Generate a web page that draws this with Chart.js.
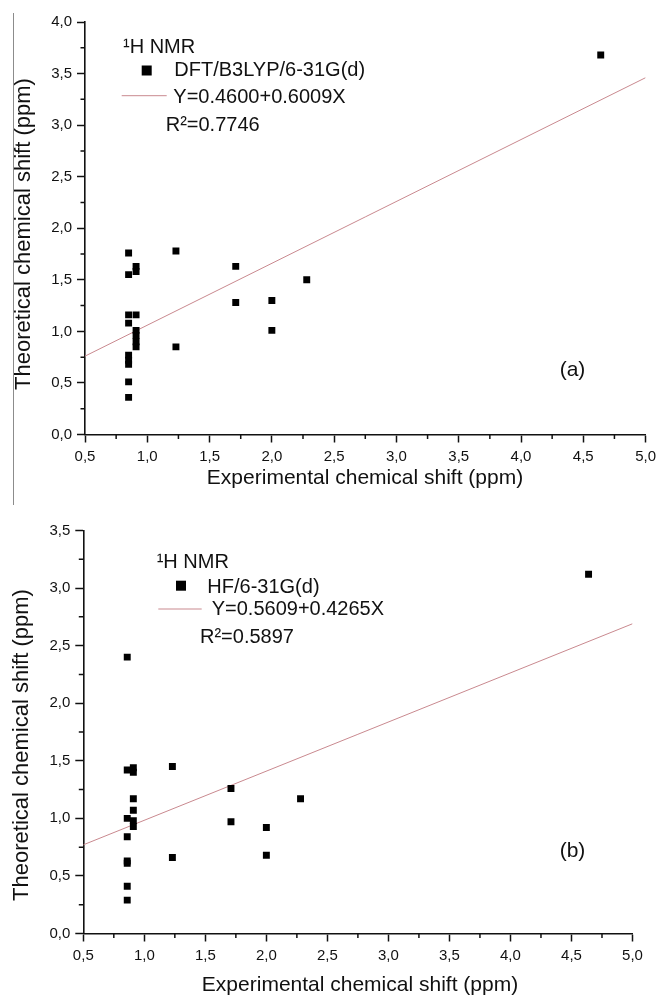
<!DOCTYPE html>
<html lang="en">
<head>
  <meta charset="UTF-8" />
  <title>1H NMR theoretical vs experimental chemical shift</title>
  <script src="https://cdn.jsdelivr.net/npm/chart.js"></script>
  <style>
    body { margin: 0; background: #fff; font-family: 'Liberation Sans', Arial, sans-serif; }
    #wrap { position: relative; width: 661px; height: 998px; overflow: hidden; }
    canvas { position: absolute; left: 0; }
    #edge { position: absolute; left: 13px; top: 13px; height: 492px; border-left: 1.5px solid #8c8c8c; }
  </style>
</head>
<body>
  <div id="wrap">
    <div id="edge"></div>
    <canvas id="dft" width="661" height="505" style="top:0"></canvas>
    <canvas id="hf" width="661" height="493" style="top:505px"></canvas>
  </div>
  <script>
    // x axis, shared by both panels
    const xTickVals = [0.5, 1.0, 1.5, 2.0, 2.5, 3.0, 3.5, 4.0, 4.5, 5.0];
    const xTickText = ['0,5', '1,0', '1,5', '2,0', '2,5', '3,0', '3,5', '4,0', '4,5', '5,0'];

    // (a) DFT/B3LYP/6-31G(d)
    const expA = [0.85, 0.85, 0.85, 0.85, 0.85, 0.85, 0.85, 0.85, 0.85,
                  0.91, 0.91, 0.91, 0.91, 0.91, 0.91, 0.91,
                  1.23, 1.23, 1.71, 1.71, 2.00, 2.00, 2.28, 4.64];
    const dftA = [1.76, 1.55, 1.16, 1.08, 0.77, 0.72, 0.68, 0.51, 0.36,
                  1.63, 1.58, 1.16, 1.01, 0.96, 0.90, 0.85,
                  1.78, 0.85, 1.63, 1.28, 1.30, 1.01, 1.50, 3.68];
    const fitAX = [0.5, 5.0];
    const fitAY = [0.76, 3.46];
    const yTickValsA = [0, 0.5, 1.0, 1.5, 2.0, 2.5, 3.0, 3.5, 4.0];
    const yTickTextA = ['0,0', '0,5', '1,0', '1,5', '2,0', '2,5', '3,0', '3,5', '4,0'];

    // (b) HF/6-31G(d)
    const expB = [0.86, 0.86, 0.86, 0.86, 0.86, 0.86, 0.86, 0.86,
                  0.91, 0.91, 0.91, 0.91, 0.91, 0.91,
                  1.23, 1.23, 1.71, 1.71, 2.00, 2.00, 2.28, 4.64];
    const hfB = [2.40, 1.42, 1.00, 0.84, 0.63, 0.61, 0.41, 0.29,
                 1.44, 1.40, 1.17, 1.07, 0.98, 0.93,
                 1.45, 0.66, 1.26, 0.97, 0.92, 0.68, 1.17, 3.12];
    const fitBX = [0.5, 5.0];
    const fitBY = [0.77, 2.69];
    const yTickValsB = [0, 0.5, 1.0, 1.5, 2.0, 2.5, 3.0, 3.5];
    const yTickTextB = ['0,0', '0,5', '1,0', '1,5', '2,0', '2,5', '3,0', '3,5'];

    const INK = '#111';
    const FONT = "'Liberation Sans', Arial, sans-serif";

    // minor ticks, legend block and axis titles
    const notesPlugin = {
      id: 'notes',
      afterDraw(chart, args, o) {
        const ctx = chart.ctx;
        const a = chart.chartArea;
        const sx = chart.scales.x, sy = chart.scales.y;
        ctx.save();
        ctx.strokeStyle = INK;
        ctx.lineWidth = 1.5;
        ctx.beginPath();
        for (let i = 1; i < o.xTicks.length; i++) {
          const px = sx.getPixelForValue((o.xTicks[i - 1] + o.xTicks[i]) / 2);
          ctx.moveTo(px, a.bottom); ctx.lineTo(px, a.bottom + 4.5);
        }
        for (let i = 1; i < o.yTicks.length; i++) {
          const py = sy.getPixelForValue((o.yTicks[i - 1] + o.yTicks[i]) / 2);
          ctx.moveTo(a.left, py); ctx.lineTo(a.left - 4.5, py);
        }
        ctx.stroke();

        ctx.fillStyle = INK;
        ctx.textBaseline = 'alphabetic';
        ctx.textAlign = 'left';
        ctx.font = '20px ' + FONT;
        o.texts.forEach(t => ctx.fillText(t[0], t[1], t[2]));

        const sq = o.square;
        ctx.fillStyle = '#000';
        ctx.fillRect(sq[0] - 5, sq[1] - 5, 10, 10);

        ctx.strokeStyle = '#c9898f';
        ctx.lineWidth = 1;
        ctx.beginPath();
        ctx.moveTo(o.sample[0], o.sample[2]);
        ctx.lineTo(o.sample[1], o.sample[2]);
        ctx.stroke();

        ctx.fillStyle = INK;
        ctx.textAlign = 'center';
        ctx.font = '21px ' + FONT;
        ctx.fillText(o.panel[0], o.panel[1], o.panel[2]);

        ctx.textBaseline = 'middle';
        ctx.font = '21px ' + FONT;
        ctx.fillText('Experimental chemical shift (ppm)', o.xTitle[0], o.xTitle[1]);
        ctx.translate(o.yTitle[0], o.yTitle[1]);
        ctx.rotate(-Math.PI / 2);
        ctx.font = '22px ' + FONT;
        ctx.fillText('Theoretical chemical shift (ppm)', 0, 0);
        ctx.restore();
      }
    };

    function makeChart(id, cfg) {
      const canvas = document.getElementById(id);
      const W = canvas.width, H = canvas.height;
      const tickFont = { family: FONT, size: 15 };
      return new Chart(canvas, {
        type: 'scatter',
        data: {
          datasets: [
            {
              data: cfg.exp.map((x, i) => ({ x: x, y: cfg.theo[i] })),
              pointStyle: 'rect',
              pointRadius: 4.9,
              backgroundColor: '#000',
              borderWidth: 0,
              order: 1
            },
            {
              type: 'line',
              data: cfg.fitX.map((x, i) => ({ x: x, y: cfg.fitY[i] })),
              borderColor: '#c9898f',
              borderWidth: 1,
              pointRadius: 0,
              order: 2
            }
          ]
        },
        options: {
          responsive: false,
          animation: false,
          events: [],
          layout: { padding: { left: 0, bottom: 0, top: cfg.area.top, right: W - cfg.area.right } },
          plugins: {
            legend: { display: false },
            tooltip: { enabled: false },
            notes: cfg.notes
          },
          scales: {
            x: {
              type: 'linear',
              min: 0.5,
              max: 5.0,
              afterFit: s => { s.height = H - cfg.area.bottom; },
              afterBuildTicks: s => { s.ticks = xTickVals.map(v => ({ value: v })); },
              ticks: { callback: (v, i) => xTickText[i], font: tickFont, color: INK, padding: 5, maxRotation: 0, autoSkip: false },
              grid: { drawOnChartArea: false, tickLength: 8, color: INK, tickWidth: 1.5 },
              border: { color: INK, width: 1.6 }
            },
            y: {
              type: 'linear',
              min: cfg.yTicks[0],
              max: cfg.yTicks[cfg.yTicks.length - 1],
              afterFit: s => { s.width = cfg.area.left; },
              afterBuildTicks: s => { s.ticks = cfg.yTicks.map(v => ({ value: v })); },
              ticks: { callback: (v, i) => cfg.yText[i], font: tickFont, color: INK, padding: 5, autoSkip: false },
              grid: { drawOnChartArea: false, tickLength: 8, color: INK, tickWidth: 1.5 },
              border: { color: INK, width: 1.6 }
            }
          }
        },
        plugins: [notesPlugin]
      });
    }

    makeChart('dft', {
      exp: expA, theo: dftA, fitX: fitAX, fitY: fitAY,
      yTicks: yTickValsA, yText: yTickTextA,
      area: { left: 85, right: 646, top: 22, bottom: 434.5 },
      notes: {
        xTicks: xTickVals, yTicks: yTickValsA,
        texts: [['\u00B9H NMR', 123, 53.3], ['DFT/B3LYP/6-31G(d)', 174.3, 76],
                ['Y=0.4600+0.6009X', 173.3, 103.3], ['R\u00B2=0.7746', 165.7, 130.7]],
        square: [146.7, 70.5],
        sample: [121.7, 166.7, 95.7],
        panel: ['(a)', 572.5, 376],
        xTitle: [365, 478],
        yTitle: [24, 234]
      }
    });

    makeChart('hf', {
      exp: expB, theo: hfB, fitX: fitBX, fitY: fitBY,
      yTicks: yTickValsB, yText: yTickTextB,
      area: { left: 83.3, right: 632.5, top: 25.5, bottom: 428.5 },
      notes: {
        xTicks: xTickVals, yTicks: yTickValsB,
        texts: [['\u00B9H NMR', 156.7, 63.3], ['HF/6-31G(d)', 207.3, 88.3],
                ['Y=0.5609+0.4265X', 211.7, 110], ['R\u00B2=0.5897', 200, 138.3]],
        square: [181, 80.7],
        sample: [158.3, 201.7, 104],
        panel: ['(b)', 572.5, 352],
        xTitle: [360, 480],
        yTitle: [22, 240]
      }
    });
  </script>
</body>
</html>
